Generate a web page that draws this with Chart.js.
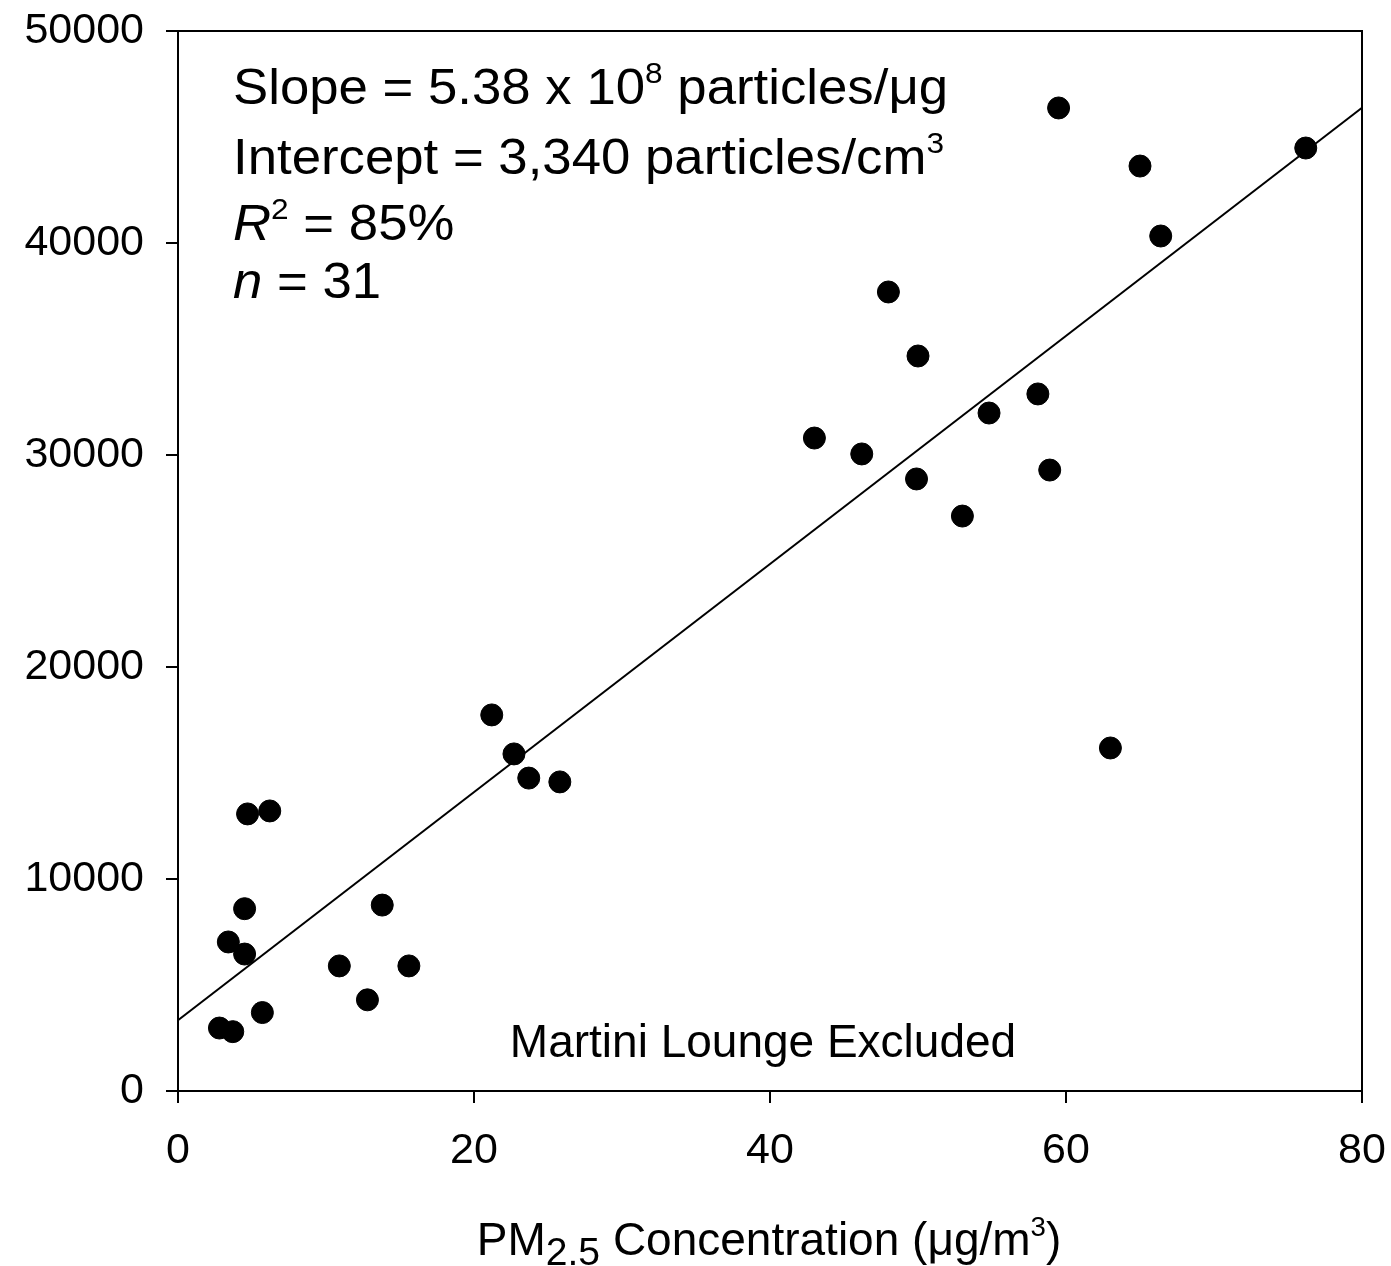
<!DOCTYPE html>
<html>
<head>
<meta charset="utf-8">
<script src="https://cdn.jsdelivr.net/npm/chart.js@4.4.1/dist/chart.umd.min.js"></script>
<style>
  html, body { margin: 0; padding: 0; background: #fff; }
  #wrap { width: 1391px; height: 1266px; }
</style>
</head>
<body>
<div id="wrap"><canvas id="chart" width="1391" height="1266"></canvas></div>
<script>
// PM2.5 concentration (ug/m3) vs particle count (particles/cm3)
const pm25 = [
  2.8, 3.7, 3.4, 4.5, 4.5, 4.7, 6.2, 5.7, 10.9, 12.8, 13.8, 15.6,
  21.2, 22.7, 23.7, 25.8, 43.0, 46.2, 48.0, 50.0, 49.9, 53.0, 54.8,
  58.1, 58.9, 59.5, 63.0, 65.0, 66.4, 76.2
];
const particles = [
  2970, 2800, 7030, 6460, 8600, 13070, 13210, 3700, 5900, 4300, 8770, 5900,
  17740, 15900, 14760, 14580, 30800, 30050, 37690, 34670, 28870, 27120, 31980,
  32880, 29290, 46370, 16180, 43630, 40330, 44480
];

// regression fit
const slope = 538;        // particles/cm3 per ug/m3 (5.38 x 10^8 particles/ug)
const intercept = 3340;
const rSquared = 85;
const nSamples = 31;

const xTicks = [0, 20, 40, 60, 80];
const yTicks = [0, 10000, 20000, 30000, 40000, 50000];

const FONT = '"Liberation Sans", Arial, Helvetica, sans-serif';

const points = pm25.map((x, i) => ({ x, y: particles[i] }));
const fitLine = [
  { x: xTicks[0], y: intercept + slope * xTicks[0] },
  { x: xTicks[xTicks.length - 1], y: intercept + slope * xTicks[xTicks.length - 1] }
];

// draws a row of text runs, each run may be sup/sub/italic
function drawRuns(ctx, runs, x, y, size, align, stretch = 1) {
  const parts = runs.map(r => {
    const s = r.sup || r.sub ? size * (r.sub ? 0.85 : 0.6) : size;
    const font = (r.italic ? 'italic ' : '') + s + 'px ' + FONT;
    ctx.font = font;
    return { text: r.text, font, w: ctx.measureText(r.text).width * stretch,
      dy: r.sup ? -size * 0.42 : r.sub ? size * 0.22 : 0 };
  });
  const total = parts.reduce((a, p) => a + p.w, 0);
  let cx = align === 'center' ? x - total / 2 : x;
  ctx.textAlign = 'left';
  ctx.textBaseline = 'alphabetic';
  ctx.fillStyle = '#000';
  for (const p of parts) {
    ctx.save();
    ctx.font = p.font;
    ctx.translate(cx, y + p.dy);
    ctx.scale(stretch, 1);
    ctx.fillText(p.text, 0, 0);
    ctx.restore();
    cx += p.w;
  }
}

// keep tick labels from pushing the plot box inward
function noOverflow(s) {
  s.paddingTop = 0;
  s.paddingBottom = 0;
  s.paddingLeft = 0;
  s.paddingRight = 0;
}

const annotations = {
  id: 'annotations',
  afterDraw(chart) {
    const { ctx, chartArea: a } = chart;
    ctx.save();
    // top and right frame
    ctx.strokeStyle = '#000';
    ctx.lineWidth = 2;
    ctx.beginPath();
    ctx.moveTo(a.left, a.top);
    ctx.lineTo(a.right, a.top);
    ctx.lineTo(a.right, a.bottom);
    ctx.stroke();

    const sz = 50, st = 1.055;
    drawRuns(ctx, [
      { text: 'Slope = ' + (slope / 100).toFixed(2) + ' x 10' },
      { text: '8', sup: true },
      { text: ' particles/\u03bcg' }
    ], 233, 104, sz, 'left', st);
    drawRuns(ctx, [
      { text: 'Intercept = ' + intercept.toLocaleString('en-US') + ' particles/cm' },
      { text: '3', sup: true }
    ], 233, 174, sz, 'left', st);
    drawRuns(ctx, [
      { text: 'R', italic: true },
      { text: '2', sup: true },
      { text: ' = ' + rSquared + '%' }
    ], 233, 240, sz, 'left', st);
    drawRuns(ctx, [
      { text: 'n', italic: true },
      { text: ' = ' + nSamples }
    ], 233, 298, sz, 'left', st);

    drawRuns(ctx, [{ text: 'Martini Lounge Excluded' }], 763, 1057, 46, 'center');

    // x axis title
    drawRuns(ctx, [
      { text: 'PM' },
      { text: '2.5', sub: true },
      { text: ' Concentration (\u03bcg/m' },
      { text: '3', sup: true },
      { text: ')' }
    ], 769, 1255, 46, 'center');
    ctx.restore();
  }
};

new Chart(document.getElementById('chart'), {
  type: 'scatter',
  data: {
    datasets: [
      {
        type: 'line',
        data: fitLine,
        borderColor: '#000',
        borderWidth: 2,
        pointRadius: 0,
        fill: false,
        order: 2
      },
      {
        data: points,
        backgroundColor: '#000',
        borderColor: '#000',
        pointRadius: 11,
        pointHoverRadius: 11,
        order: 1
      }
    ]
  },
  options: {
    responsive: false,
    animation: false,
    events: [],
    layout: { padding: { left: 0, top: 31, right: 29, bottom: 0 } },
    plugins: { legend: { display: false }, tooltip: { enabled: false } },
    scales: {
      x: {
        type: 'linear',
        min: 0,
        max: 80,
        afterBuildTicks: s => { s.ticks = xTicks.map(v => ({ value: v })); },
        afterFit: s => { s.height = 175; noOverflow(s); },
        border: { display: true, color: '#000', width: 2 },
        grid: { drawOnChartArea: false, drawTicks: true, tickLength: 12, color: '#000', lineWidth: 2 },
        ticks: { color: '#000', padding: 22, maxRotation: 0, font: { family: FONT, size: 43 } }
      },
      y: {
        type: 'linear',
        min: 0,
        max: 50000,
        afterBuildTicks: s => { s.ticks = yTicks.map(v => ({ value: v })); },
        afterFit: s => { s.width = 178; noOverflow(s); },
        border: { display: true, color: '#000', width: 2 },
        grid: { drawOnChartArea: false, drawTicks: true, tickLength: 12, color: '#000', lineWidth: 2 },
        ticks: { color: '#000', padding: 22, font: { family: FONT, size: 43 }, callback: v => String(v) }
      }
    }
  },
  plugins: [annotations]
});
</script>
</body>
</html>
